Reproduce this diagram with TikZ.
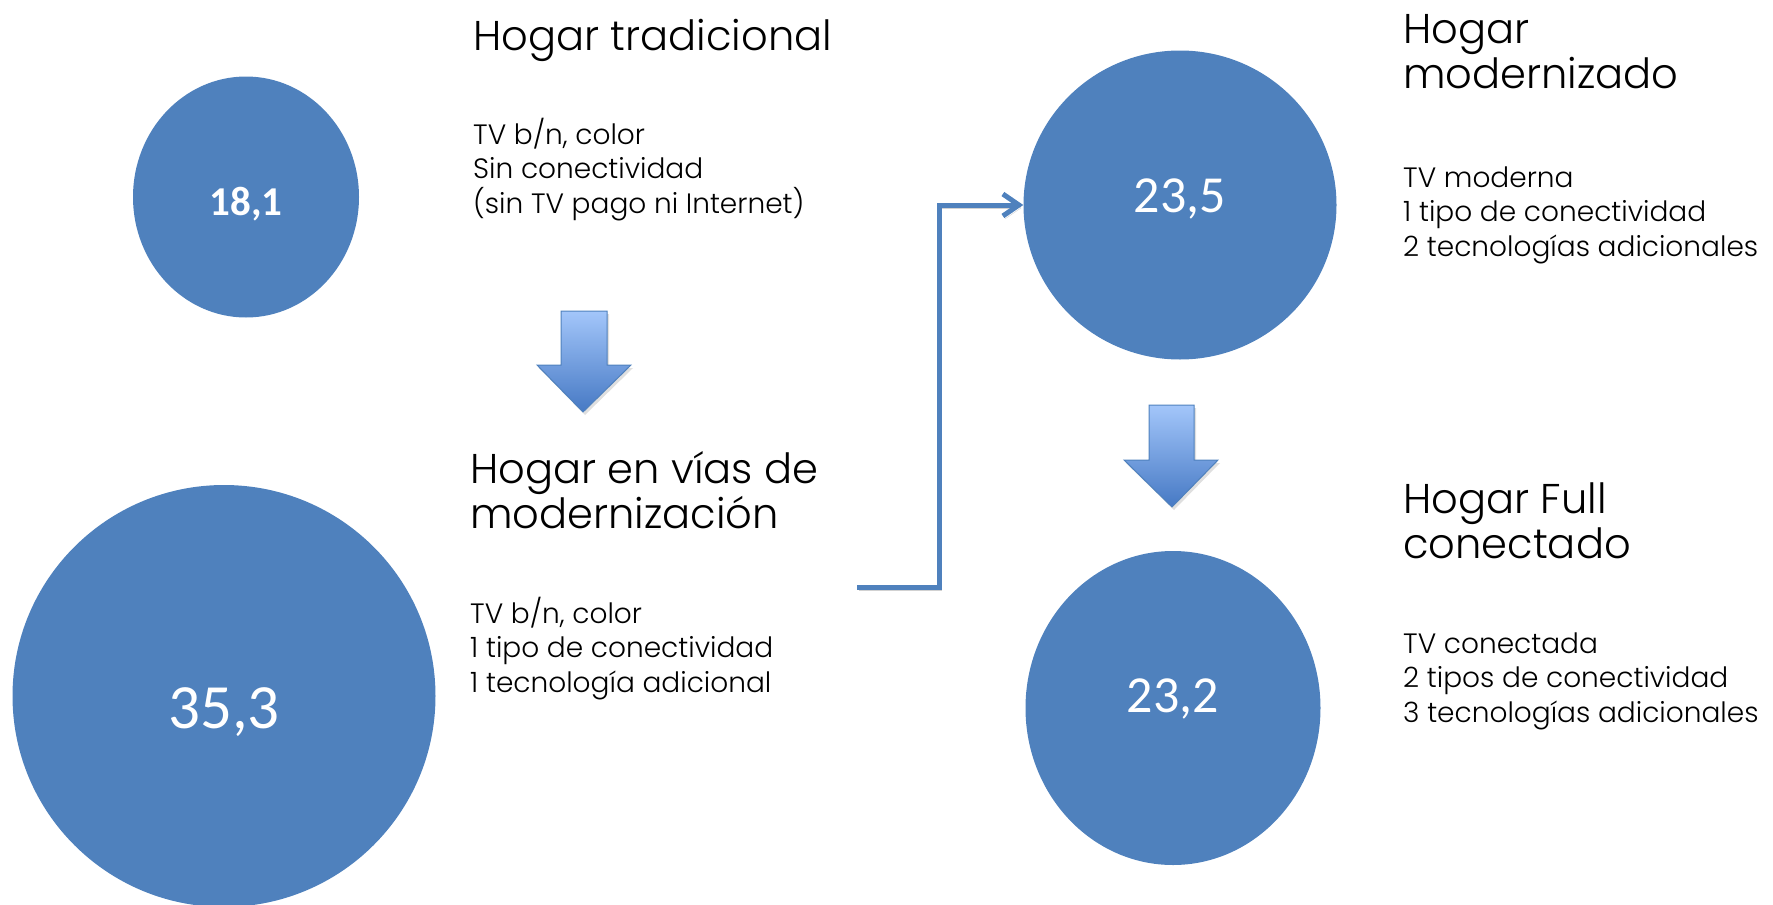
\documentclass[tikz,border=0pt]{standalone}
\usepackage{fontspec}
\setmainfont{Poppins}[UprightFont=* Light]
\newfontfamily\numfont{Carlito}
\usetikzlibrary{shapes.geometric}
\usetikzlibrary{arrows.meta}
\usetikzlibrary{shadows}
\usetikzlibrary{positioning}

\definecolor{dotblue}{HTML}{4F81BD}
\definecolor{arrowtop}{HTML}{A3C6FA}
\definecolor{arrowbot}{HTML}{4679C4}
\definecolor{arrowedge}{HTML}{4F81BD}

\begin{document}
\begin{tikzpicture}[x=1pt,y=-1pt]
      \tikzset{
        dot/.style={ellipse, fill=dotblue, text=white, inner sep=0pt, text depth=0pt},
        title/.style={anchor=base west, align=left, inner sep=0pt,
          font=\fontsize{41.6}{45}\selectfont},
        info/.style={anchor=base west, align=left, inner sep=0pt,
          font=\fontsize{28}{34.5}\selectfont},
        downarrow/.style={draw=arrowedge, line width=1pt, top color=arrowtop,
          bottom color=arrowbot,
          drop shadow={opacity=0.25, shadow xshift=2pt, shadow yshift=-3pt}},
        link/.style={draw=dotblue, line width=5pt,
          -{Straight Barb[length=16pt, width=22pt]},
          preaction={draw=black!18, transform canvas={xshift=2pt, yshift=-3pt}}},
      }
      \useasboundingbox (0,0) rectangle (1773,905);

      % circles
      \node[dot, minimum width=226, minimum height=241, text height=36pt,
        font=\numfont\fontsize{41}{49}\selectfont\bfseries] (trad) at (246,197) {18,1};
      \node[dot, minimum width=423, minimum height=422, text height=64pt,
        font=\numfont\fontsize{63}{75}\selectfont] (via) at (224,696) {35,3};
      \node[dot, minimum width=313, minimum height=309, text height=14pt,
        font=\numfont\fontsize{52}{62}\selectfont] (mod) at (1180,205) {23,5};
      \node[dot, minimum width=295, minimum height=314, text height=8pt,
        font=\numfont\fontsize{52}{62}\selectfont] (full) at (1173,708) {23,2};

      % titles (placed at the baseline of their last line)
      \node[title] (tradT) at (473,50) {Hogar tradicional};
      \node[title] (viaT) at (470,528) {Hogar en vías de\\modernización};
      \node[title] (modT) at (1403,88) {Hogar\\modernizado};
      \node[title] (fullT) at (1403,558) {Hogar Full\\conectado};

      % descriptions
      \node[info] (tradI) at (473,213) {TV b/n, color\\Sin conectividad\\(sin TV pago ni Internet)};
      \node[info] (viaI) at (470,692) {TV b/n, color\\1 tipo de conectividad\\1 tecnología adicional};
      \node[info] (modI) at (1403,256) {TV moderna\\1 tipo de conectividad\\2 tecnologías adicionales};
      \node[info] (fullI) at (1403,722) {TV conectada\\2 tipos de conectividad\\3 tecnologías adicionales};

      % block arrows
      \path[downarrow] (561,311) -- (607,311) -- (607,365) -- (631,365)
        -- (583,412) -- (537,365) -- (561,365) -- cycle;
      \path[downarrow] (1149,405) -- (1194,405) -- (1194,460) -- (1218,460)
        -- (1172,507) -- (1124,460) -- (1149,460) -- cycle;

      % connector
      \coordinate (start) at (857,587);
      \coordinate (bend) at (939,587);
      \draw[link] (start) -- (bend) |- (mod);
\end{tikzpicture}
\end{document}
